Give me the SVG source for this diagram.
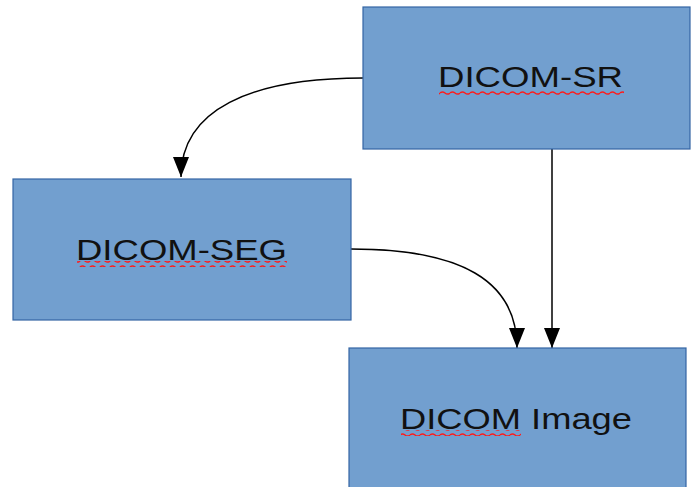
<svg xmlns="http://www.w3.org/2000/svg" width="691" height="487" viewBox="0 0 691 487">
  <defs>
    <style>
      .box { fill: #729fcf; stroke: #3465a4; stroke-width: 1.2; }
      .label { font-family: "Liberation Sans", Arial, sans-serif; font-size: 30px; fill: #111111; }
      .conn { fill: none; stroke: #000000; stroke-width: 1.5; }
      .wave { fill: none; stroke: #ff1a1a; stroke-width: 1.4; }
    </style>
    <marker id="arrowhead" viewBox="0 0 20 16" refX="20" refY="8" markerUnits="userSpaceOnUse" markerWidth="20" markerHeight="16" orient="auto">
      <path d="M0,0 L20,8 L0,16 z" fill="#000000"/>
    </marker>
    <pattern id="squiggle" width="10" height="6" patternUnits="userSpaceOnUse">
      <path class="wave" d="M0,3 Q2.5,0.8 5,3 T10,3"/>
    </pattern>
  </defs>

  <g id="connectors">
    <path class="conn" d="M363,78 C250,78 181,110 181,177" marker-end="url(#arrowhead)"/>
    <path class="conn" d="M351,249 C460,249 517,280 517,348" marker-end="url(#arrowhead)"/>
    <path class="conn" d="M552,149 L552,348" marker-end="url(#arrowhead)"/>
  </g>

  <g id="node-sr">
    <rect class="box" x="363" y="7" width="327" height="142"/>
    <text class="label" x="438" y="87" textLength="185" lengthAdjust="spacingAndGlyphs">DICOM-SR</text>
    <rect x="439" y="89.5" width="185" height="6" fill="url(#squiggle)"/>
  </g>

  <g id="node-seg">
    <rect class="box" x="13" y="179" width="338" height="141"/>
    <text class="label" x="76" y="260" textLength="211" lengthAdjust="spacingAndGlyphs">DICOM-SEG</text>
    <rect x="77" y="261" width="210" height="6" fill="url(#squiggle)"/>
  </g>

  <g id="node-image">
    <rect class="box" x="349" y="348" width="337" height="150"/>
    <text class="label" x="400" y="429" textLength="232" lengthAdjust="spacingAndGlyphs">DICOM Image</text>
    <rect x="401" y="430" width="120" height="6" fill="url(#squiggle)"/>
  </g>
</svg>
